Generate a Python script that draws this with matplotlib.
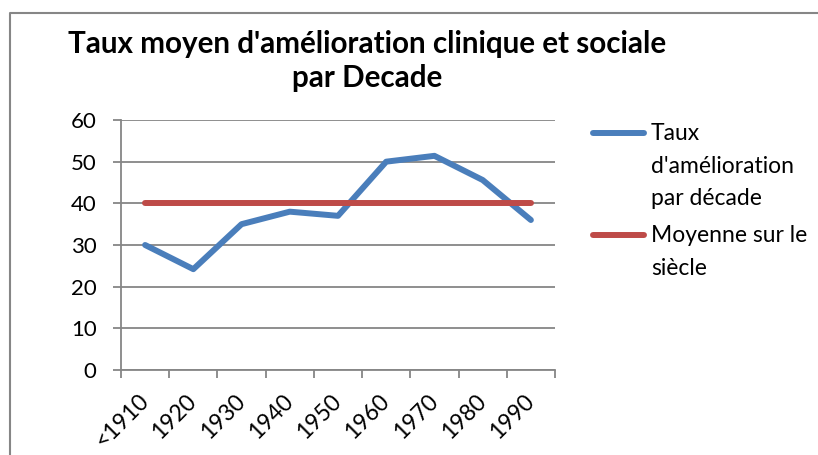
import matplotlib.pyplot as plt
from matplotlib.lines import Line2D
import numpy as np

plt.rcParams['font.family'] = ['Lato', 'DejaVu Sans']

decades = ['<1910', '1920', '1930', '1940', '1950', '1960', '1970', '1980', '1990']
taux = [30, 24.2, 35, 38, 37, 50, 51.4, 45.6, 36]
moyenne = [40, 40, 40, 40, 40, 40, 40, 40, 40]
labels = ["Taux\nd'amélioration\npar décade", 'Moyenne sur le\nsiècle']

blue = '#4A7EBB'
red = '#BE4B48'
grey = '#868686'

W, H = 818, 455
fig = plt.figure(figsize=(W / 100, H / 100), dpi=100)
ax = fig.add_axes([121 / W, 1 - 370 / H, 434 / W, 250 / H])

x = np.arange(len(decades))
ax.plot(x, taux, color=blue, lw=4.3, solid_capstyle='round', solid_joinstyle='round')
ax.plot(x, moyenne, color=red, lw=4.3, solid_capstyle='round')

ax.set_xlim(-0.5, len(decades) - 0.5)
ax.set_ylim(0, 60)
ax.set_yticks(range(0, 61, 10))
ax.yaxis.grid(True, color=grey, lw=1.3)
ax.set_axisbelow(True)

ax.set_xticks(x)
ax.set_xticklabels(decades, rotation=45, ha='right', va='center', rotation_mode='anchor')
ax.set_xticks(np.arange(-0.5, len(decades)), minor=True)
ax.tick_params(axis='x', which='major', length=0, pad=20, labelsize=16.5)
ax.tick_params(axis='x', which='minor', length=5.5, width=1.3, color=grey, direction='out')
ax.tick_params(axis='y', length=5.5, width=1.3, color=grey, labelsize=16, pad=12)

for s in ['top', 'right']:
    ax.spines[s].set_visible(False)
for s in ['left', 'bottom']:
    ax.spines[s].set_color(grey)
    ax.spines[s].set_linewidth(1.3)

fig.text(367 / W, 1 - 61 / H, "Taux moyen d'amélioration clinique et sociale\npar Decade",
         ha='center', va='center', fontsize=21.3, fontweight='bold', linespacing=1.25)

# legend drawn by hand so the key sits on the first line of each label
for lab, col, ytop in [(labels[0], blue, 123), (labels[1], red, 225)]:
    fig.text(651 / W, 1 - ytop / H, lab, ha='left', va='top', fontsize=16.5, linespacing=1.68)
    fig.add_artist(Line2D([593 / W, 644 / W], [1 - (ytop + 10) / H] * 2, transform=fig.transFigure,
                          color=col, lw=4.3, solid_capstyle='round'))

# chart frame (only top and left edges visible in the reference)
fig.add_artist(Line2D([10 / W, 10 / W, 1], [0, 1 - 13 / H, 1 - 13 / H],
                      transform=fig.transFigure, color=grey, lw=1.5))

fig.savefig('out.png', dpi=100)
